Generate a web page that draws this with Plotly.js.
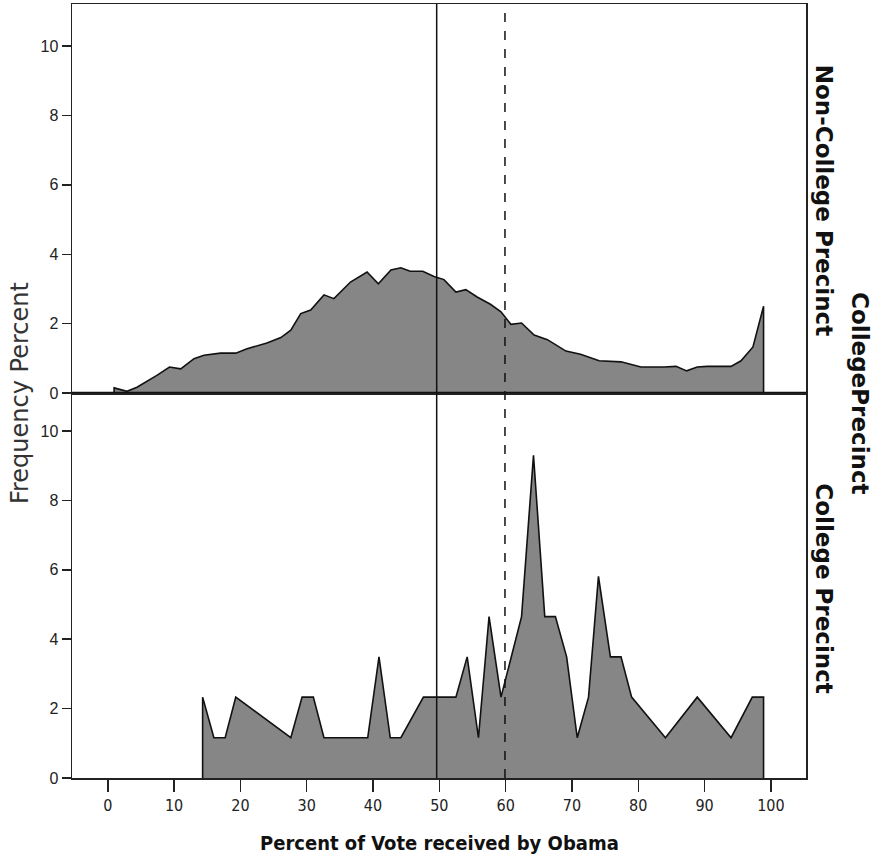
<!DOCTYPE html>
<html><head><meta charset="utf-8">
<script src="https://cdn.plot.ly/plotly-3.0.1.min.js"></script>
<style>body{margin:0;background:#fff}#chart{width:875px;height:860px}</style>
</head><body><div id="chart"></div>
<script>
// Non-College Precinct frequency polygon (percent vote for Obama vs frequency percent)
const nonCollegeX = [0.95,0.95,2.9,4.4,7.4,9.3,11.0,13.0,14.5,17.0,19.3,21.0,24.0,26.1,27.6,29.1,30.6,32.6,34.1,36.6,39.1,40.8,42.7,44.2,45.6,47.5,49.2,50.7,52.5,54.0,55.7,57.7,59.3,60.8,62.4,64.3,66.3,69.1,71.3,74.1,77.4,80.4,83.9,85.7,87.3,88.9,90.4,94.0,95.5,97.3,98.9,98.9];
const nonCollegeY = [0,0.15,0.05,0.17,0.51,0.75,0.70,0.99,1.09,1.15,1.15,1.28,1.44,1.60,1.81,2.29,2.39,2.83,2.72,3.20,3.49,3.15,3.55,3.61,3.51,3.51,3.36,3.27,2.91,2.98,2.77,2.56,2.34,1.98,2.02,1.67,1.54,1.21,1.12,0.93,0.90,0.75,0.75,0.77,0.64,0.75,0.77,0.77,0.93,1.33,2.50,0];
// College Precinct frequency polygon
const collegeX = [14.3,14.3,16.0,17.7,19.3,27.6,29.3,31.0,32.6,39.2,40.9,42.6,44.2,47.6,52.5,54.2,55.9,57.5,59.3,62.4,64.2,65.9,67.5,69.2,70.8,72.5,74.0,75.8,77.4,79.0,84.1,88.9,94.0,97.2,98.9,98.9];
const collegeY = [0,2.33,1.16,1.16,2.33,1.16,2.33,2.33,1.16,1.16,3.49,1.16,1.16,2.33,2.33,3.49,1.16,4.65,2.33,4.65,9.30,4.65,4.65,3.49,1.16,2.33,5.81,3.49,3.49,2.33,1.16,2.33,1.16,2.33,2.33,0];
const xTickVals = [0,10,20,30,40,50,60,70,80,90,100];
const yTickVals = [0,2,4,6,8,10];
const solidLineX = 49.6;
const dashedLineX = 59.9;
const panelLabels = ["Non-College Precinct","College Precinct"];
const facetTitle = "CollegePrecinct";
const xTitle = "Percent of Vote received by Obama";
const yTitle = "Frequency Percent";

const fillCol = "#868686";
const narrow = "'DejaVu Sans Condensed', 'Liberation Sans Narrow', 'Liberation Sans', sans-serif";
const sans = "'Liberation Sans', Arial, sans-serif";
const wide = "'DejaVu Sans', 'Liberation Sans', sans-serif";

const traces = [
  {x: nonCollegeX, y: nonCollegeY, xaxis: 'x2', yaxis: 'y2', type: 'scatter', mode: 'lines',
   fill: 'tozeroy', fillcolor: fillCol, line: {color: '#111', width: 1.6, shape: 'linear'}, hoverinfo: 'skip'},
  {x: collegeX, y: collegeY, xaxis: 'x', yaxis: 'y', type: 'scatter', mode: 'lines',
   fill: 'tozeroy', fillcolor: fillCol, line: {color: '#111', width: 1.6, shape: 'linear'}, hoverinfo: 'skip'}
];

const splitFrac = 11.09 / (11.09 + 11.21);
const xr = [-5.4, 105.3];
const yAxisCommon = {
  tickvals: yTickVals, ticks: 'outside', ticklen: 9, tickwidth: 1.5, tickcolor: '#222',
  showgrid: false, zeroline: false, showline: true, linecolor: '#222', linewidth: 1.5, mirror: true,
  tickfont: {family: sans, size: 16, color: '#222'}, fixedrange: true
};

const layout = {
  width: 875, height: 860,
  margin: {l: 72, r: 69, t: 4, b: 82},
  paper_bgcolor: '#fff', plot_bgcolor: '#fff',
  showlegend: false,
  xaxis: {range: xr, domain: [0, 1], anchor: 'y', tickvals: xTickVals, ticks: 'outside', ticklen: 12,
          tickwidth: 1.5, tickcolor: '#222', showgrid: false, zeroline: false, showline: true,
          linecolor: '#222', linewidth: 2, tickfont: {family: narrow, size: 16, color: '#222'}},
  xaxis2: {range: xr, domain: [0, 1], anchor: 'y2', matches: 'x', showticklabels: false, ticks: '',
           showgrid: false, zeroline: false, showline: true, linecolor: '#222', linewidth: 1.5, mirror: true},
  yaxis: Object.assign({}, yAxisCommon, {domain: [0, splitFrac], range: [0, 11.09]}),
  yaxis2: Object.assign({}, yAxisCommon, {domain: [splitFrac, 1], range: [0, 11.21]}),
  shapes: [
    {type: 'line', xref: 'x', yref: 'paper', x0: solidLineX, x1: solidLineX, y0: 0, y1: 1,
     line: {color: '#111', width: 1.5}},
    {type: 'line', xref: 'x', yref: 'paper', x0: dashedLineX, x1: dashedLineX, y0: 0, y1: 1,
     line: {color: '#111', width: 1.5, dash: 'dash'}},
    {type: 'line', xref: 'paper', yref: 'y2', x0: 0, x1: 1, y0: 0, y1: 0,
     line: {color: '#111', width: 2.6}}
  ],
  annotations: [
    {text: yTitle, xref: 'paper', yref: 'paper', x: 0, y: splitFrac, xanchor: 'center', yanchor: 'middle',
     xshift: -52, textangle: -90, showarrow: false, font: {family: wide, size: 24, color: '#333'}},
    {text: '<b>' + xTitle + '</b>', xref: 'paper', yref: 'paper', x: 0.501, y: 0, xanchor: 'center', yanchor: 'middle',
     yshift: -65, showarrow: false, font: {family: narrow, size: 20, color: '#111'}},
    {text: '<b>' + panelLabels[0] + '</b>', xref: 'paper', yref: 'paper', x: 1, y: 0.747, xanchor: 'center', yanchor: 'middle',
     xshift: 18, textangle: 90, showarrow: false, font: {family: wide, size: 23, color: '#111'}},
    {text: '<b>' + panelLabels[1] + '</b>', xref: 'paper', yref: 'paper', x: 1, y: 0.245, xanchor: 'center', yanchor: 'middle',
     xshift: 18, textangle: 90, showarrow: false, font: {family: wide, size: 23, color: '#111'}},
    {text: '<b>' + facetTitle + '</b>', xref: 'paper', yref: 'paper', x: 1, y: splitFrac, xanchor: 'center', yanchor: 'middle',
     xshift: 54, textangle: 90, showarrow: false, font: {family: wide, size: 23, color: '#111'}}
  ]
};

Plotly.newPlot('chart', traces, layout, {displayModeBar: false, staticPlot: true});
</script>
</body></html>
